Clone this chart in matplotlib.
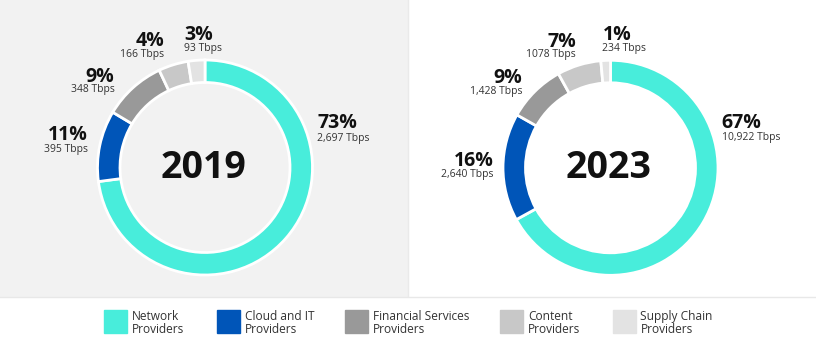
import matplotlib.pyplot as plt
from matplotlib.patches import Rectangle

plt.rcParams['font.family'] = ['Open Sans', 'DejaVu Sans']

# donnees
categories = ['Network\nProviders', 'Cloud and IT\nProviders', 'Financial Services\nProviders',
              'Content\nProviders', 'Supply Chain\nProviders']
colors = ['#48EDDB', '#0055B8', '#999999', '#C8C8C8', '#E3E3E3']
years = ['2019', '2023']
tbps_2019 = [2697, 395, 348, 166, 93]
tbps_2023 = [10922, 2640, 1428, 1078, 234]
pct_2019 = ['73%', '11%', '9%', '4%', '3%']
pct_2023 = ['67%', '16%', '9%', '7%', '1%']
sub_2019 = ['2,697 Tbps', '395 Tbps', '348 Tbps', '166 Tbps', '93 Tbps']
sub_2023 = ['10,922 Tbps', '2,640 Tbps', '1,428 Tbps', '1078 Tbps', '234 Tbps']

# mise en page (pixels, y depuis le haut)
W, H = 816, 346
centres = [(205, 167.5), (610.5, 167.8)]
R, largeur = 107.5, 22.5
# (x, baseline pct, baseline sous-texte, alignement)
pos_2019 = [(317, 128.3, 140.5, 'left'), (88, 140, 152, 'right'), (114.5, 81.5, 92, 'right'),
            (164.5, 46, 57, 'right'), (184, 40, 51, 'left')]
pos_2023 = [(721.5, 128.3, 140, 'left'), (493.5, 165.7, 177.3, 'right'), (522, 83.3, 94, 'right'),
            (576, 46.7, 57.3, 'right'), (602.5, 40, 50.7, 'left')]
leg_x = [104, 217, 345, 500, 612.5]

fig = plt.figure(figsize=(W / 100, H / 100), dpi=100)
ax = fig.add_axes([0, 0, 1, 1])

def y(v):
    return H - v

# fond gris a gauche
ax.add_patch(Rectangle((0, y(296)), 407, 296, color='#F2F2F2', zorder=0))
ax.plot([0, W], [y(296.5), y(296.5)], color='#E8E8E8', lw=1, zorder=0)
ax.plot([407.5, 407.5], [y(296), H], color='#EAEAEA', lw=1, zorder=0)

for vals, (cx, cy), annee, pcts, subs, pos in zip(
        [tbps_2019, tbps_2023], centres, years, [pct_2019, pct_2023],
        [sub_2019, sub_2023], [pos_2019, pos_2023]):
    ax.pie(vals, colors=colors, startangle=90, counterclock=False, radius=R,
           center=(cx, y(cy)), wedgeprops=dict(width=largeur, edgecolor='white', linewidth=2))
    ax.text(cx - 2, y(168.5), annee, ha='center', va='center', fontsize=27,
            fontweight='bold', color='#111111')
    for p, s, (tx, b1, b2, al) in zip(pcts, subs, pos):
        ax.text(tx, y(b1), p, ha=al, va='baseline', fontsize=14, fontweight='bold', color='#111111')
        ax.text(tx, y(b2), s, ha=al, va='baseline', fontsize=7.5, color='#333333')

# legende
for lx, cat, c in zip(leg_x, categories, colors):
    ax.add_patch(Rectangle((lx, y(333)), 23, 23, color=c))
    l1, l2 = cat.split('\n')
    ax.text(lx + 28, y(320), l1, ha='left', va='baseline', fontsize=8.6, color='#333333')
    ax.text(lx + 28, y(333), l2, ha='left', va='baseline', fontsize=8.6, color='#333333')

ax.set_xlim(0, W)
ax.set_ylim(0, H)
ax.set_aspect('auto')
ax.axis('off')

fig.savefig('out.png', dpi=100, facecolor='white')
